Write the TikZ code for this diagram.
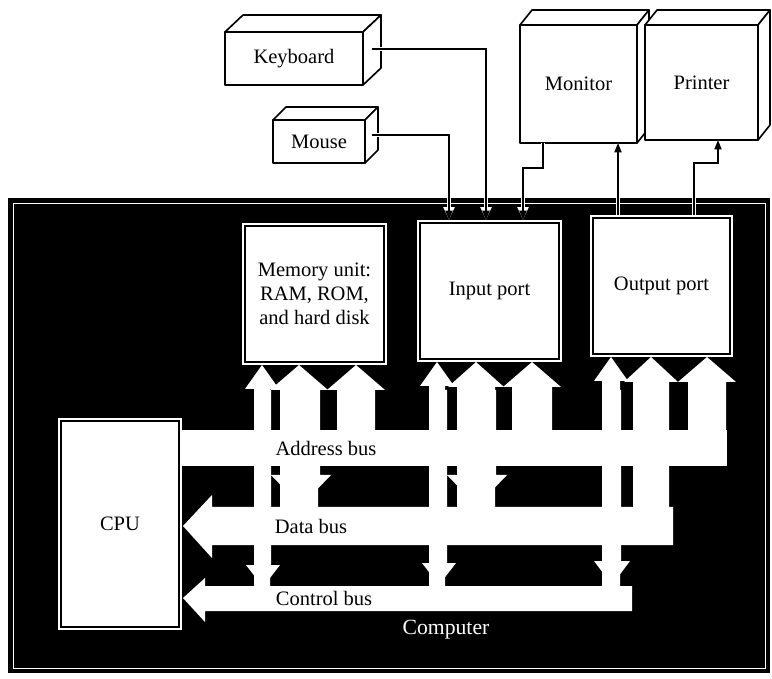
\documentclass[tikz,border=0pt]{standalone}
\usepackage{fontspec}
\setmainfont{Liberation Serif}
\usetikzlibrary{arrows.meta,calc}
\newcommand\busup[6]{% cx, tip y, bottom y, shaft half, head half, head length
 \fill[white] ({#1-#4},#3) -- ({#1-#4},{#2+#6}) -- ({#1-#5},{#2+#6}) -- (#1,#2) -- ({#1+#5},{#2+#6}) -- ({#1+#4},{#2+#6}) -- ({#1+#4},#3) -- cycle;}
\newcommand\busdown[6]{% cx, tip y, top y, shaft half, head half, head length
 \fill[white] ({#1-#4},#3) -- ({#1-#4},{#2-#6}) -- ({#1-#5},{#2-#6}) -- (#1,#2) -- ({#1+#5},{#2-#6}) -- ({#1+#4},{#2-#6}) -- ({#1+#4},#3) -- cycle;}
\begin{document}
\begin{tikzpicture}[x=0.03cm,y=-0.03cm,
  lbl/.style={font=\fontsize{17.5}{20.5}\selectfont, align=center, text=black},
  face/.style={fill=white, draw=black, line width=1.4pt, line join=round},
  dev/.style={face, inner sep=0pt, outer sep=0pt, lbl},
  port/.style={fill=white, inner sep=0pt, outer sep=0pt, lbl},
  halo/.style={draw=white, line width=3.6pt, -{Triangle[length=11pt,width=9pt]}},
  conn/.style={draw=black, line width=1.4pt, -{Triangle[length=8pt,width=6pt]}},
  buslbl/.style={lbl, inner sep=1pt}
]
\useasboundingbox (0,0) rectangle (772,679);
\fill[white] (0,0) rectangle (772,679);

% ---- peripheral devices (3D boxes) ----
% Keyboard
\draw[face] (225,32) -- (243,15) -- (381,15) -- (363,32) -- cycle;
\draw[face] (363,32) -- (381,15) -- (381,68) -- (363,85) -- cycle;
\node[dev, minimum width={138*0.03cm}, minimum height={53*0.03cm}] (kbd) at (294,58.5) {Keyboard};
% Mouse
\draw[face] (273,120) -- (286,107) -- (378,107) -- (365,120) -- cycle;
\draw[face] (365,120) -- (378,107) -- (378,150) -- (365,163) -- cycle;
\node[dev, minimum width={92*0.03cm}, minimum height={43*0.03cm}] (mouse) at (319,141.5) {Mouse};
% Monitor
\draw[face] (520,25) -- (532,10) -- (649,10) -- (637,25) -- cycle;
\draw[face] (637,25) -- (649,10) -- (649,128) -- (637,143) -- cycle;
\node[dev, minimum width={117*0.03cm}, minimum height={118*0.03cm}] (monitor) at (578.5,84) {Monitor};
% Printer
\draw[face] (645,25) -- (657,10) -- (770,10) -- (758,25) -- cycle;
\draw[face] (758,25) -- (770,10) -- (770,125) -- (758,140) -- cycle;
\node[dev, minimum width={113*0.03cm}, minimum height={115*0.03cm}] (printer) at (701.5,82.5) {Printer};

% ---- computer ----
\fill[black] (8,198) rectangle (770,673);
\draw[white, line width=0.8pt] (13,203) rectangle (765,668);

% buses
\fill[white] (182,430) rectangle (727,466);
\fill[white] (183,526) -- (212,495) -- (212,507) -- (673,507) -- (673,545) -- (212,545) -- (212,558) -- cycle;
\fill[white] (183,598) -- (205,578) -- (205,586) -- (632,586) -- (632,611) -- (205,611) -- (205,622) -- cycle;

% memory arrows
\busup{262}{365}{590}{8}{17}{24}
\busdown{263}{587}{390}{8}{17}{22}
\busup{299}{365}{510}{19}{29}{25}
\busdown{301}{506}{390}{19}{30}{31}
\busup{356}{365}{440}{19}{29}{25}
% input port arrows
\busup{437}{362}{590}{8}{17}{24}
\busdown{439}{585}{390}{8}{17}{22}
\busup{476}{362}{510}{19}{28}{25}
\busdown{477}{506}{390}{19}{30}{31}
\busup{532}{362}{440}{20}{29}{25}
% output port arrows
\busup{611}{357}{590}{9}{17}{24}
\busdown{612}{585}{390}{9}{18}{24}
\busup{651}{357}{510}{18}{27}{25}
\busup{707}{357}{440}{19}{29}{25}

% boxes inside the computer
\node[port, minimum width={145*0.03cm}, minimum height={142*0.03cm}] (mem) at (314.5,294) {Memory unit:\\RAM, ROM,\\and hard disk};
\node[port, minimum width={145*0.03cm}, minimum height={142*0.03cm}] (inport) at (489.5,291) {Input port};
\node[port, minimum width={143*0.03cm}, minimum height={142*0.03cm}] (outport) at (661.5,286) {Output port};
\node[port, minimum width={124*0.03cm}, minimum height={212*0.03cm}] (cpu) at (120,524) {CPU};
\foreach \b in {mem,inport,outport,cpu}
  \draw[black, line width=1pt] ([shift={(3,3)}]\b.north west) rectangle ([shift={(-3,-3)}]\b.south east);

% bus labels
\node[buslbl] (abus) at (326,448) {Address bus};
\node[buslbl] (dbus) at (311,526) {Data bus};
\node[buslbl] (cbus) at (324,598) {Control bus};
\node[lbl, text=white, font=\fontsize{18.5}{20}\selectfont] (comp) at (446,630) {Computer};

% ---- connectors ----
\coordinate (kbdout) at (372,49);
\coordinate (mseout) at (372,135);
\coordinate (monout) at (543,143);
\coordinate (kx) at (486,0);
\coordinate (mx) at (449,0);
\coordinate (monx) at (523,0);
\coordinate (monbend) at (543,168);
\coordinate (o1x) at (618,0);
\coordinate (o2x) at (694,0);
\coordinate (prbend) at (718,163);
\foreach \s in {halo,conn}{
  \draw[\s] (kbdout) -| (kx |- inport.north);
  \draw[\s] (mseout) -| (mx |- inport.north);
  \draw[\s] (monout) -- (monbend) -| (monx |- inport.north);
  \draw[\s] (o1x |- outport.north) -- (o1x |- monitor.south);
  \draw[\s] (o2x |- outport.north) |- (prbend) -- (prbend |- printer.south);
}
\end{tikzpicture}
\end{document}
